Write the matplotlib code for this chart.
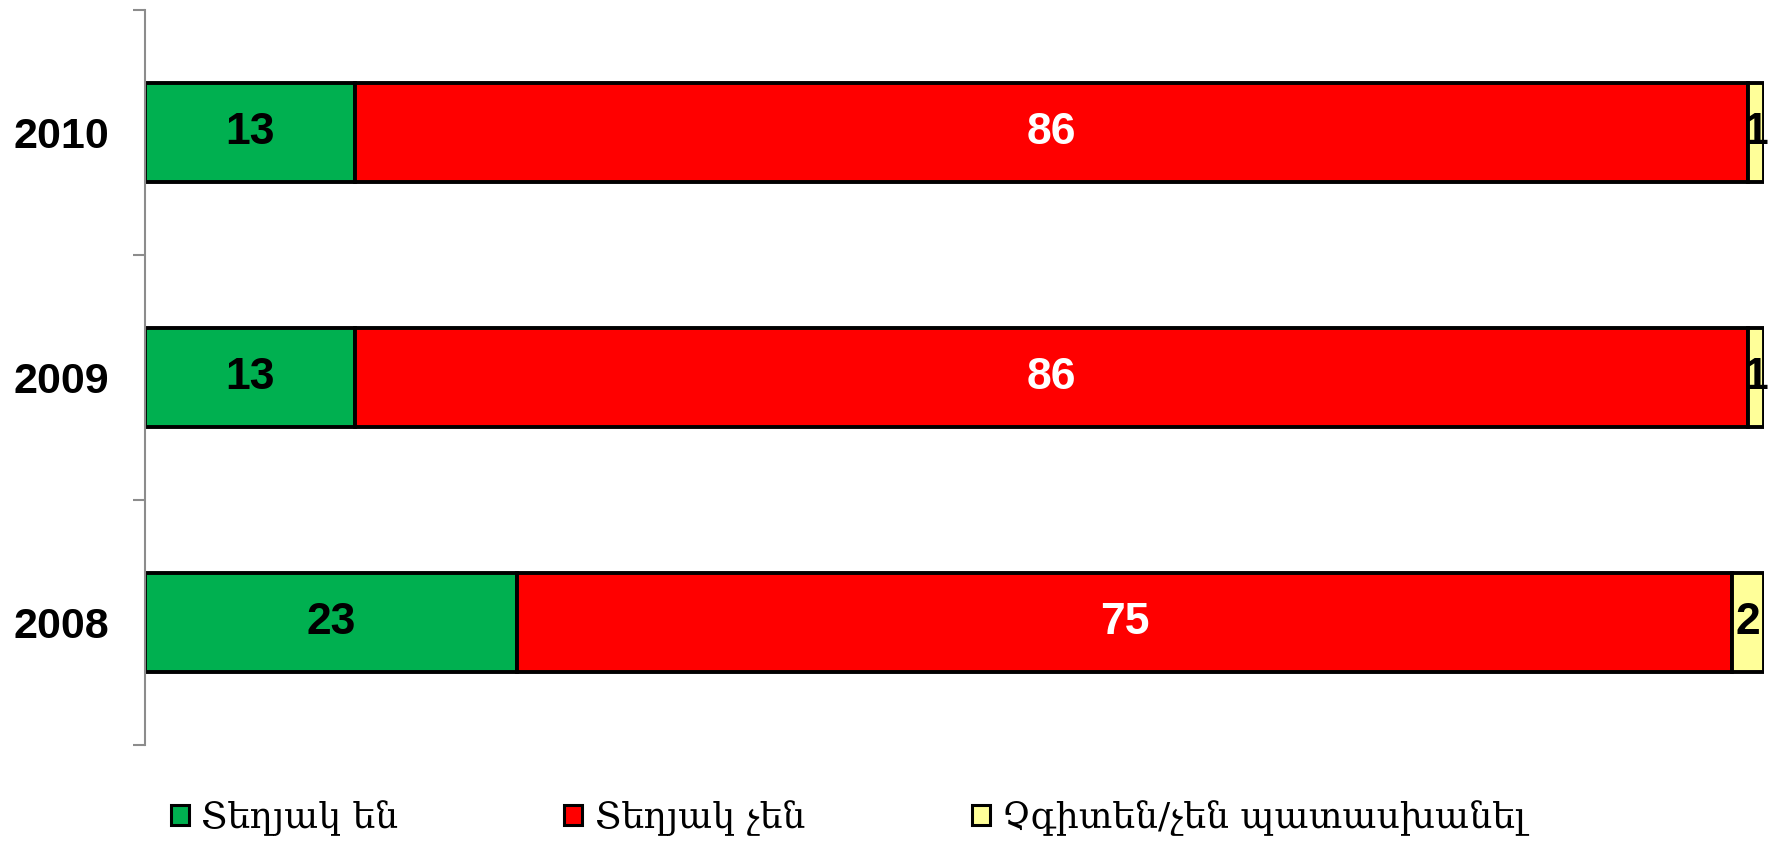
import matplotlib
matplotlib.use("Agg")
import matplotlib.pyplot as plt
from matplotlib.patches import Patch
import numpy as np

years = ["2008", "2009", "2010"]
aware = [23, 13, 13]
not_aware = [75, 86, 86]
no_answer = [2, 1, 1]

series_names = ["Տեղյակ են", "Տեղյակ չեն", "Չգիտեն/չեն պատասխանել"]
colors = ["#00B050", "#FF0000", "#FFFF99"]
label_colors = ["black", "white", "black"]

plt.rcParams["font.family"] = ["Liberation Sans", "DejaVu Sans"]

fig = plt.figure(figsize=(17.75, 8.58), dpi=100)
ax = fig.add_axes([145 / 1775, 1 - 745 / 858, (1764 - 145) / 1775, 735 / 858])

y = np.arange(len(years))
left = np.zeros(len(years))
for vals, col, lc in zip([aware, not_aware, no_answer], colors, label_colors):
    vals = np.asarray(vals, dtype=float)
    ax.barh(y, vals, left=left, height=0.406, color=col, edgecolor="black", linewidth=2.8)
    for yi, l, v in zip(y, left, vals):
        ax.text(l + v / 2, yi, f"{v:.0f}", ha="center", va="center",
                fontsize=32, fontweight="bold", color=lc)
    left += vals

ax.set_xlim(0, 100)
ax.set_ylim(-0.5, 2.5)
ax.set_yticks(y)
ax.set_yticklabels(years, fontsize=31, fontweight="bold")
ax.tick_params(axis="y", which="major", length=0, pad=26)
ax.set_yticks([-0.5, 0.5, 1.5, 2.5], minor=True)
ax.tick_params(axis="y", which="minor", length=9, width=1.5, color="#8c8c8c")
ax.set_xticks([])
for s in ["top", "right", "bottom"]:
    ax.spines[s].set_visible(False)
ax.spines["left"].set_color("#8c8c8c")
ax.spines["left"].set_linewidth(1.5)

handles = [Patch(facecolor=c, edgecolor="black", linewidth=2.2) for c in colors]
fig.legend(handles, series_names, loc="center left", bbox_to_anchor=(138 / 1775, 1 - 818 / 858),
           ncol=3, frameon=False, prop={"family": ["DejaVu Serif", "DejaVu Sans"], "size": 26},
           handlelength=0.5, handleheight=0.5, handletextpad=0.35, columnspacing=4.6)

fig.savefig("out.png", dpi=100)
